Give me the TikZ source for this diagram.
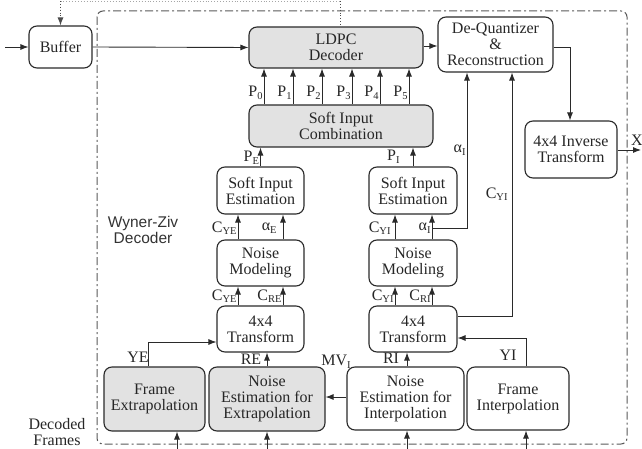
\documentclass[tikz,border=0pt]{standalone}
\usepackage{fontspec}
\setmainfont{Liberation Serif}
\newfontfamily\sanslbl{Liberation Sans}
\usetikzlibrary{arrows.meta,calc}
\definecolor{boxgray}{HTML}{E2E2E2}
\definecolor{linecol}{HTML}{2A2A2A}
\newcommand\sbs[1]{\raisebox{-0.35ex}{\fontsize{10.5}{10.5}\selectfont #1}}
\tikzset{
  box/.style={draw=linecol, line width=1.1pt, rounded corners=8pt, align=center,
    inner sep=0pt, font=\fontsize{16}{16}\selectfont, text=black!85},
  graybox/.style={box, fill=boxgray},
  arr/.style={draw=linecol, line width=0.9pt, -{Latex[length=8pt,width=6pt]}},
  lbl/.style={font=\fontsize{16}{16}\selectfont, text=black!85, inner sep=1pt},
  frame/.style={draw=black!65, line width=1pt, dash pattern=on 8pt off 3pt on 2pt off 3pt, rounded corners=6pt},
  feed/.style={draw=black!70, line width=0.9pt, dotted}
}
\begin{document}
\begin{tikzpicture}[x=1pt,y=-1pt]
\useasboundingbox (0,0) rectangle (642,449);

% decoder boundary
\draw[frame] (97,11) rectangle (627,444);

% blocks
\node[box, minimum width=63pt, minimum height=42pt] (buf) at (60.5,47) {Buffer};
\node[graybox, minimum width=174pt, minimum height=41pt] (ldpc) at (336,47.5) {LDPC\\Decoder};
\node[box, minimum width=115pt, minimum height=55pt] (dq) at (495.5,44.5) {De-Quantizer\\\&\\Reconstruction};
\node[box, minimum width=92pt, minimum height=57pt] (inv) at (571,149.5) {4x4 Inverse\\Transform};
\node[graybox, minimum width=184pt, minimum height=42pt] (sic) at (341,126) {Soft Input\\Combination};
\node[box, minimum width=87pt, minimum height=47pt] (sieE) at (260.5,190.5) {Soft Input\\Estimation};
\node[box, minimum width=88pt, minimum height=47pt] (sieI) at (413,190.5) {Soft Input\\Estimation};
\node[box, minimum width=87pt, minimum height=46pt] (nmE) at (260.5,263) {Noise\\Modeling};
\node[box, minimum width=88pt, minimum height=46pt] (nmI) at (413,263) {Noise\\Modeling};
\node[box, minimum width=87pt, minimum height=46pt] (trE) at (260.5,329) {4x4\\Transform};
\node[box, minimum width=88pt, minimum height=46pt] (trI) at (413,329) {4x4\\Transform};
\node[graybox, minimum width=101pt, minimum height=64pt] (fe) at (154.5,399) {Frame\\Extrapolation};
\node[graybox, minimum width=116pt, minimum height=64pt] (nee) at (267,399) {Noise\\Estimation for\\Extrapolation};
\node[box, minimum width=117pt, minimum height=63pt] (nei) at (405.5,398.5) {Noise\\Estimation for\\Interpolation};
\node[box, minimum width=102pt, minimum height=63pt] (fi) at (518,398.5) {Frame\\Interpolation};

% free ends and routing points
\coordinate (inL) at (5,47);
\coordinate (topB) at (60.5,1);
\coordinate (topL) at (340,1);
\coordinate (xout) at (641,150);
\coordinate (botE) at (177,449);
\coordinate (botNE) at (267,449);
\coordinate (botNI) at (407,449);
\coordinate (botI) at (526,449);
\foreach \n/\x in {0/264,1/293,2/322,3/352,4/380,5/409}{\coordinate (p\n) at (\x,0);}
\coordinate (cye) at (238,0);
\coordinate (ae) at (283,0);
\coordinate (cyi) at (395,0);
\coordinate (ai) at (432,0);
\coordinate (aiB) at (467,228);
\coordinate (cyB) at (512,316);
\coordinate (yeB) at (148,342);
\coordinate (yiB) at (526,338);
\coordinate (dqR) at (570,47);

% labels
\node[font=\sanslbl\fontsize{15.5}{16}\selectfont, text=black!80, align=center] (wz) at (143,230) {Wyner-Ziv\\Decoder};
\node[lbl, align=center] (dec) at (57,432) {Decoded\\Frames};

% external feeds
\draw[feed, draw=black!35] (topB) -- (topL);
\draw[feed, -{Latex[length=8pt,width=6pt]}] (topB) -- (buf.north);
\draw[feed] (topL) -- (ldpc.north -| topL);
\draw[arr] (inL) -- (buf.west);
\draw[arr] (buf.east) -- (ldpc.west);
\draw[arr] (ldpc.east |- 0,46) -- (dq.west |- 0,46);
\draw[arr] (dq.east |- dqR) -- (dqR) -- (inv.north -| dqR);
\draw[arr] (inv.east |- xout) -- (xout);
\node[lbl, anchor=center] (xl) at (637,140) {X};

% probabilities into the LDPC decoder
\foreach \n in {0,...,5}{
  \draw[arr] (sic.north -| p\n) -- node[lbl, left, pos=0.32] {P\sbs{\n}} (ldpc.south -| p\n);
}
\draw[arr] (sieE.north) -- node[lbl, left, pos=0.45] {P\sbs{E}} (sic.south -| sieE.north);
\draw[arr] (sieI.north) -- node[lbl, left, pos=0.5, xshift=-12pt] {P\sbs{I}} (sic.south -| sieI.north);

% noise modeling to soft input estimation
\draw[arr] (nmE.north -| cye) -- node[lbl, left, pos=0.45] {C\sbs{YE}} (sieE.south -| cye);
\draw[arr] (nmE.north -| ae) -- node[lbl, left, pos=0.45, xshift=-5pt] {α\sbs{E}} (sieE.south -| ae);
\draw[arr] (nmI.north -| cyi) -- node[lbl, left, pos=0.45, xshift=-3pt] {C\sbs{YI}} (sieI.south -| cyi);
\draw[arr] (nmI.north -| ai) -- node[lbl, left, pos=0.45] {α\sbs{I}} (sieI.south -| ai);

% transforms to noise modeling
\draw[arr] (trE.north -| cye) -- node[lbl, left, pos=0.5] {C\sbs{YE}} (nmE.south -| cye);
\draw[arr] (trE.north -| ae) -- node[lbl, left, pos=0.5] {C\sbs{RE}} (nmE.south -| ae);
\draw[arr] (trI.north -| cyi) -- node[lbl, left, pos=0.5] {C\sbs{YI}} (nmI.south -| cyi);
\draw[arr] (trI.north -| ai) -- node[lbl, left, pos=0.5] {C\sbs{RI}} (nmI.south -| ai);

% side information to the de-quantizer
\draw[arr] (ai |- aiB) -- (aiB) -- node[lbl, left, pos=0.5] {α\sbs{I}} (dq.south -| aiB);
\draw[arr] (trI.east |- cyB) -- (cyB) -- node[lbl, left, pos=0.5, xshift=-3pt] {C\sbs{YI}} (dq.south -| cyB);

% estimation blocks into the transforms
\draw[arr] (fe.north -| yeB) -- (yeB) -- (trE.west |- yeB);
\node[lbl] (yel) at (138,357) {YE};
\draw[arr] (nee.north) -- (trE.south -| nee.north);
\node[lbl] (rel) at (251,359) {RE};
\draw[arr] (fi.north -| yiB) -- (yiB) -- (trI.east |- yiB);
\node[lbl] (yil) at (508,355) {YI};
\draw[arr] (nei.north -| botNI) -- (trI.south -| botNI);
\node[lbl] (ril) at (391,358) {RI};
\draw[arr] (nei.west |- 0,397) -- (nee.east |- 0,397);
\node[lbl] (mvl) at (336,362) {MV\sbs{I}};

% decoded frames entering from below
\draw[arr] (botE) -- (fe.south -| botE);
\draw[arr] (botNE) -- (nee.south -| botNE);
\draw[arr] (botNI) -- (nei.south -| botNI);
\draw[arr] (botI) -- (fi.south -| botI);
\end{tikzpicture}
\end{document}
